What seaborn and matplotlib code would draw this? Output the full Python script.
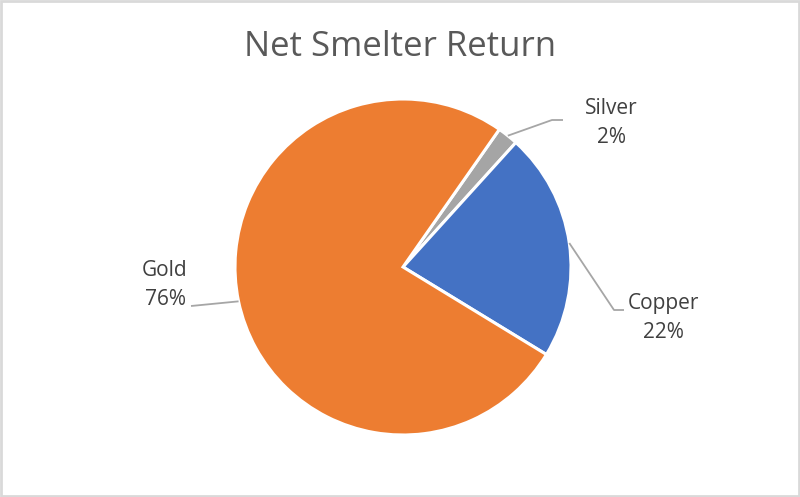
import numpy as np
import matplotlib
matplotlib.use("Agg")
import matplotlib.pyplot as plt
import seaborn as sns

# Net smelter return split by metal
metals = ["Silver", "Copper", "Gold"]
shares = [2, 22, 76]
colors = ["#A5A5A5", "#4472C4", "#ED7D31"]
title = "Net Smelter Return"

sns.set_theme(style="white")
plt.rcParams["font.family"] = ["Open Sans", "DejaVu Sans"]

W, H = 800, 497
fig = plt.figure(figsize=(W / 100, H / 100), dpi=100)
ax = fig.add_axes([0, 0, 1, 1])

cx, cy, r = 403, H - 267, 168
start = 55
ax.pie(shares, colors=sns.color_palette(colors), startangle=start,
       counterclock=False, center=(cx, cy), radius=r,
       wedgeprops=dict(edgecolor="white", linewidth=2.2))
ax.set_xlim(0, W)
ax.set_ylim(0, H)
ax.set_aspect("auto")
ax.axis("off")

text_col = "#404040"
line_col = "#A6A6A6"

# label layout: (text centre x, text centre y from top, elbow x, elbow y, end x)
layout = {
    "Silver": (611, 123, 552, 120, 563),
    "Copper": (663, 318, 614, 310, 624),
    "Gold": (165, 285, 191, 306, 191),
}

total = sum(shares)
cum = 0.0
for name, v in zip(metals, shares):
    mid = start - (cum + v / 2) / total * 360
    cum += v
    sx = cx + r * np.cos(np.radians(mid))
    sy = cy + r * np.sin(np.radians(mid))
    tx, ty, ex, ey, endx = layout[name]
    ax.plot([sx, ex, endx], [sy, H - ey, H - ey], color=line_col, lw=1.3,
            solid_capstyle="butt")
    ax.text(tx, H - ty, f"{name}\n{v}%", ha="center", va="center",
            fontsize=15, color=text_col, linespacing=1.45)

fig.text(0.5, 1 - 47 / H, title, ha="center", va="center", fontsize=25,
         color="#595959")

# light frame around the chart area
fig.patches.append(plt.Rectangle((1 / W, 1 / H), 1 - 2 / W, 1 - 2 / H,
                                 transform=fig.transFigure, fill=False,
                                 edgecolor="#D9D9D9", lw=2))

fig.savefig("out.png", dpi=100)
